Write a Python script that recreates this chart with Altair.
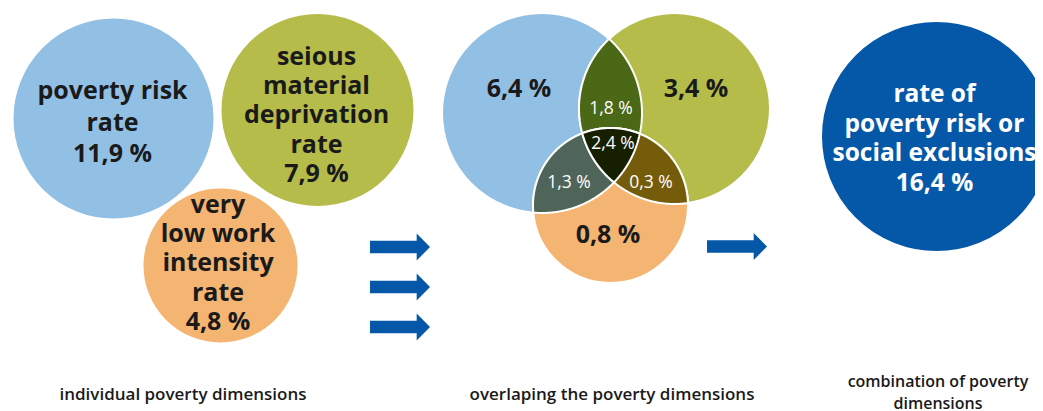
import numpy as np
import pandas as pd
import altair as alt

# ---------------- data ----------------
dimension_names = [["poverty risk", "rate"],
                   ["seious", "material", "deprivation", "rate"],
                   ["very", "low work", "intensity", "rate"]]
dimension_rates = [11.9, 7.9, 4.8]

overlap_regions = ["poverty risk only", "material deprivation only", "low work intensity only",
                   "poverty risk + deprivation", "poverty risk + low work",
                   "deprivation + low work", "all three"]
overlap_rates = [6.4, 3.4, 0.8, 1.8, 1.3, 0.3, 2.4]

combined_name = ["rate of", "poverty risk or", "social exclusions"]
combined_rate = 16.4

captions = [["individual poverty dimensions"],
            ["overlaping the poverty dimensions"],
            ["combination of poverty", "dimensions"]]

def fmt(v):
    return f"{v:.1f}".replace(".", ",") + " %"

# ---------------- layout (page pixel coordinates) ----------------
W, H = 1027, 403
X0, Y0 = 8, 8
FONT = "Open Sans"
C_BLUE, C_GREEN, C_ORANGE, C_NAVY = "#92c0e5", "#b5bc49", "#f4b472", "#0558a8"
C_AB, C_AC, C_BC, C_ABC = "#4a6816", "#4f655a", "#755c0a", "#162000"
C_TEXT = "#1a1a1a"

left_circles = [(113.5, 118.5, 101.0), (317.5, 110.0, 97.0), (220.5, 265.5, 78.0)]
venn_circles = [(542.0, 113.0, 100.0), (674.5, 108.5, 95.5), (610.5, 205.5, 77.5)]
total_circle = (936.5, 136.5, 115.5)
circle_colors = [C_BLUE, C_GREEN, C_ORANGE]

left_blocks = [(112.5, 99.0, 31.5), (316.5, 65.0, 29.2), (218.0, 213.0, 29.2)]
venn_big_pos = [(519, 97), (696, 97), (608, 243)]
venn_small_pos = [(611, 114), (569, 188), (651, 188), (613, 149)]
combined_block = (934.5, 102.0, 29.6)
caption_blocks = [(183, 400, 22, 17), (612, 400, 22, 17), (938, 387, 22, 16)]
arrow_pos = [(400, 247), (400, 287), (400, 327), (737, 246.5)]
ARROW_HALF = 30.0
arrow_shape = "M-1,-0.21L0.556,-0.21L0.556,-0.45L1,0L0.556,0.45L0.556,0.21L-1,0.21Z"

xs = alt.Scale(domain=[X0, X0 + W], nice=False, zero=False)
ys = alt.Scale(domain=[Y0, Y0 + H], nice=False, zero=False, reverse=True)

def pos(ch):
    return ch.encode(x=alt.X("x:Q", scale=xs, axis=None),
                     y=alt.Y("y:Q", scale=ys, axis=None))

def circle_layer(circs, colors):
    # Vega circle symbol: diameter = sqrt(size)
    df = pd.DataFrame({"x": [c[0] for c in circs], "y": [c[1] for c in circs],
                       "size": [(2 * c[2]) ** 2 for c in circs], "color": colors})
    return pos(alt.Chart(df).mark_circle(opacity=1, stroke="white", strokeWidth=2)).encode(
        size=alt.Size("size:Q", scale=None, legend=None),
        color=alt.Color("color:N", scale=None, legend=None))

def region_layer(circs, color, half=100.0):
    pts = []
    t = np.linspace(0, 2 * np.pi, 1440, endpoint=False)
    for i, (x, y, r) in enumerate(circs):
        px, py = x + r * np.cos(t), y + r * np.sin(t)
        ok = np.ones_like(t, dtype=bool)
        for j, (x2, y2, r2) in enumerate(circs):
            if j != i:
                ok &= (px - x2) ** 2 + (py - y2) ** 2 <= r2 ** 2 + 1e-6
        pts.append(np.c_[px[ok], py[ok]])
    P = np.vstack(pts)
    mx, my = P.mean(axis=0)
    P = P[np.argsort(np.arctan2(P[:, 1] - my, P[:, 0] - mx))]
    path = "M" + "L".join(f"{(px - mx) / half:.4f},{(py - my) / half:.4f}" for px, py in P) + "Z"
    df = pd.DataFrame({"x": [mx], "y": [my]})
    return pos(alt.Chart(df).mark_point(shape=path, size=4 * half ** 2, filled=True, fill=color,
                                        opacity=1, fillOpacity=1, stroke="white", strokeWidth=2))

def text_layer(rows, size, color, weight):
    df = pd.DataFrame(rows)
    return pos(alt.Chart(df).mark_text(font=FONT, fontSize=size, fontWeight=weight, color=color,
                                       align="center", baseline="alphabetic")).encode(text="text:N")

def block_rows(lines, x, y0, lh):
    return [{"x": x, "y": y0 + i * lh, "text": s} for i, s in enumerate(lines)]

layers = []
layers.append(circle_layer(left_circles, circle_colors))
layers.append(circle_layer(venn_circles, circle_colors))
A, B, C = venn_circles
for circs, col in [([A, B], C_AB), ([A, C], C_AC), ([B, C], C_BC), ([A, B, C], C_ABC)]:
    layers.append(region_layer(circs, col))
layers.append(circle_layer([total_circle], [C_NAVY]))

arrows_df = pd.DataFrame({"x": [p[0] for p in arrow_pos], "y": [p[1] for p in arrow_pos]})
layers.append(pos(alt.Chart(arrows_df).mark_point(shape=arrow_shape, size=4 * ARROW_HALF ** 2,
                                                  filled=True, fill=C_NAVY, opacity=1,
                                                  fillOpacity=1, strokeWidth=0)))

# texts
rows = []
for lines, rate, (x, y0, lh) in zip(dimension_names, dimension_rates, left_blocks):
    rows += block_rows(lines + [fmt(rate)], x, y0, lh)
for v, (x, y) in zip(overlap_rates[:3], venn_big_pos):
    rows.append({"x": x, "y": y, "text": fmt(v)})
layers.append(text_layer(rows, 25, C_TEXT, "bold"))

small_rows = [{"x": x, "y": y, "text": fmt(v)} for v, (x, y) in zip(overlap_rates[3:], venn_small_pos)]
layers.append(text_layer(small_rows, 17.5, "white", "normal"))

x, y0, lh = combined_block
layers.append(text_layer(block_rows(combined_name + [fmt(combined_rate)], x, y0, lh), 24.5, "white", "bold"))

for lines, (x, y0, lh, fs) in zip(captions, caption_blocks):
    layers.append(text_layer(block_rows(lines, x, y0, lh), fs, C_TEXT, 600))

chart = alt.layer(*layers).properties(
    width=W, height=H, autosize=alt.AutoSizeParams(type="none"), padding=0,
    background="white"
).configure_view(stroke=None)

chart.save("out.html", embed_options={"renderer": "svg", "actions": False})
